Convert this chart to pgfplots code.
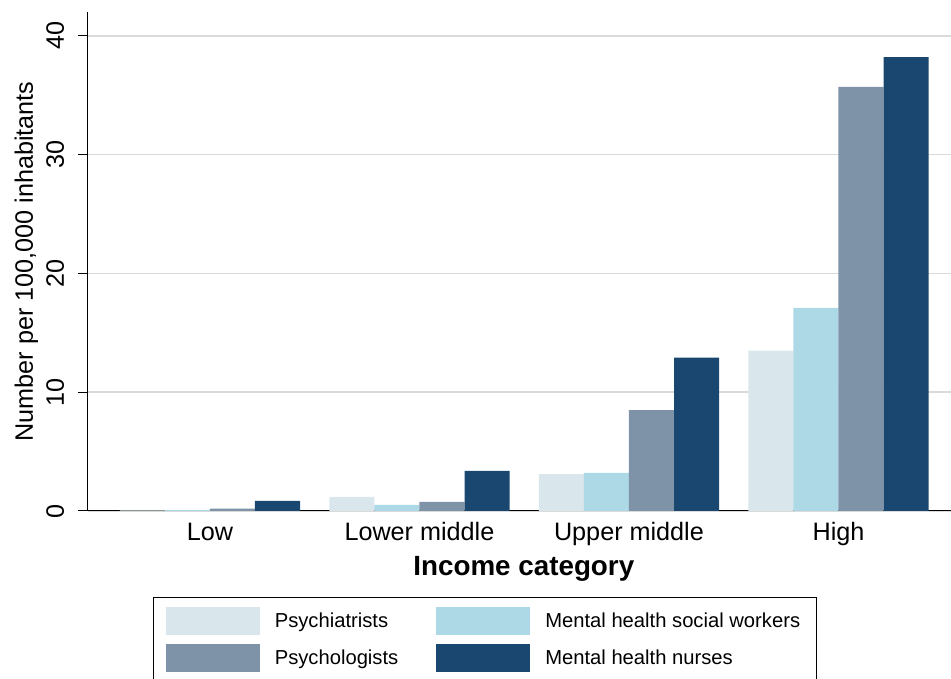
\documentclass[border=0pt]{standalone}
\usepackage{fontspec}
\setmainfont{Liberation Sans}
\usepackage{pgfplots}
\pgfplotsset{compat=1.18}
\definecolor{cPsychiatrists}{HTML}{D9E6EC}
\definecolor{cSocial}{HTML}{ADD8E6}
\definecolor{cPsychologists}{HTML}{7E92A8}
\definecolor{cNurses}{HTML}{1A476F}
\definecolor{cGrid}{HTML}{DADADA}
\begin{document}
\begin{tikzpicture}
\begin{axis}[
  name=ax,
  scale only axis,
  width=431.5pt, height=249.5pt,
  xmin=-0.582, xmax=3.537,
  ymin=0, ymax=42,
  ybar=0pt, bar width=0.215,
  axis x line*=bottom, axis y line*=left,
  axis line style={line width=0.5pt, -},
  xtick={0,1,2,3},
  xticklabels={Low,Lower middle,Upper middle,High},
  x tick style={draw=none},
  ytick={0,10,20,30,40},
  y tick style={line width=0.5pt, black},
  tick align=outside, major tick length=5pt,
  ymajorgrids, grid style={cGrid, line width=0.75pt},
  /pgf/number format/assume math mode=true,
  tick label style={font=\fontsize{12.6}{15}\selectfont},
  xticklabel style={anchor=base, yshift=-10pt},
  yticklabel style={xshift=-7pt, rotate=90, anchor=base},
  ylabel={Number per 100,000 inhabitants},
  ylabel style={font=\fontsize{12.6}{15}\selectfont, at={([xshift=-27.5pt]axis description cs:0,0.5)}, anchor=base},
  xlabel={Income category},
  xlabel style={font=\fontsize{13.9}{16}\selectfont\bfseries, at={(axis description cs:0.505,0)}, anchor=base, yshift=-32.3pt},
  legend columns=2,
  legend cell align=left,
  legend image code/.code={\fill[#1] (0pt,-7pt) rectangle (47pt,7pt);},
  legend style={at={(0.46,-0.1723)}, anchor=north, draw=black, line width=0.5pt,
    inner xsep=6pt, inner ysep=5pt, font=\fontsize{10.1}{12}\selectfont,
    column sep=5.5pt, row sep=4.5pt,
    /tikz/every even column/.append style={column sep=17pt}},
]
\addplot[fill=cPsychiatrists, draw=none] coordinates {(0,0.05) (1,1.19) (2,3.1) (3,13.5)};
\addplot[fill=cSocial, draw=none] coordinates {(0,0.1) (1,0.51) (2,3.2) (3,17.1)};
\addplot[fill=cPsychologists, draw=none] coordinates {(0,0.2) (1,0.76) (2,8.5) (3,35.7)};
\addplot[fill=cNurses, draw=none] coordinates {(0,0.85) (1,3.37) (2,12.9) (3,38.2)};
\legend{Psychiatrists, Mental health social workers, Psychologists, Mental health nurses}
\end{axis}
\pgfresetboundingbox
\path[use as bounding box] ([xshift=-44pt,yshift=-84pt]ax.south west) rectangle ([yshift=6pt]ax.north east);
\end{tikzpicture}
\end{document}
